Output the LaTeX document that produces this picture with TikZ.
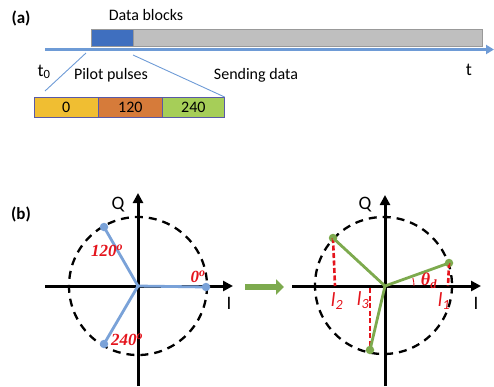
\documentclass[tikz,border=0pt]{standalone}
\usepackage{fontspec}
\setmainfont{Carlito}
\newfontfamily\serifbi{Liberation Serif}
\usetikzlibrary{arrows.meta}
\definecolor{tblue}{HTML}{6E9BD6}
\definecolor{dblue}{HTML}{3F6FBF}
\definecolor{gblock}{HTML}{BFBFBF}
\definecolor{pyel}{HTML}{F0BE32}
\definecolor{porg}{HTML}{D67B3A}
\definecolor{pgrn}{HTML}{A6CE58}
\definecolor{vgreen}{HTML}{7DAA4E}
\definecolor{vblue}{HTML}{7AA2D8}
\definecolor{lred}{HTML}{E4141C}
\begin{document}
\begin{tikzpicture}[x=1pt,y=-1pt,
  txt/.style={font=\fontsize{16}{18}\selectfont, inner sep=0pt},
  lbl/.style={font=\fontsize{17}{19}\selectfont\bfseries, inner sep=0pt},
  axl/.style={font=\fontsize{19}{21}\selectfont, inner sep=0pt},
  blk/.style={draw=gray!80, anchor=north west, inner sep=0pt},
  pbox/.style={draw=gray!70!blue, line width=0.6pt, minimum width=64, minimum height=20, anchor=north west, inner sep=0pt, font=\fontsize{16}{18}\selectfont},
  axis/.style={line width=3pt, -{Triangle[length=10pt,width=10pt]}},
  circ/.style={line width=2.3pt, dash pattern=on 8pt off 6pt},
  vecb/.style={line width=2.8pt, vblue},
  vecg/.style={line width=2.8pt, vgreen},
  dotb/.style={circle, fill=vblue, inner sep=0pt, minimum size=8.5pt},
  dotg/.style={circle, fill=vgreen, inner sep=0pt, minimum size=8.5pt},
  deg/.style={text=lred, font=\fontsize{17}{19}\selectfont\serifbi\bfseries\itshape, inner sep=0pt},
  ll/.style={text=lred, font=\fontsize{20}{22}\selectfont\itshape, inner sep=0pt},
  rdash/.style={lred, line width=2.6pt, dash pattern=on 5pt off 2.5pt},
  zoomline/.style={tblue, line width=0.9pt}
]
\useasboundingbox (0,0) rectangle (494,386);

% ---------- (a) ----------
\node[lbl] (la) at (21,18) {(a)};
\node[txt] (db) at (146,15) {Data blocks};
\node[blk, fill=dblue, minimum width=42, minimum height=17] (bb) at (91,29) {};
\node[blk, fill=gblock, minimum width=349, minimum height=17] (gb) at (133,29) {};
\coordinate (tl0) at (45,49.5);
\coordinate (tl1) at (494,49.5);
\draw[tblue, line width=3.2pt, -{Triangle[length=8pt,width=9pt]}] (tl0) -- (tl1);
\node[txt, font=\fontsize{18}{20}\selectfont] (t0) at (44,72) {t\textsubscript{0}};
\node[txt, font=\fontsize{18}{20}\selectfont] (t) at (469,70) {t};
\node[txt] (pp) at (111,75) {Pilot pulses};
\node[txt] (sd) at (256,75) {Sending data};
\node[pbox, fill=pyel] (p0) at (34,97) {0};
\node[pbox, fill=porg] (p1) at (98,97) {120};
\node[pbox, fill=pgrn, minimum width=62] (p2) at (162,97) {240};
\coordinate (z1) at (86,53);
\coordinate (z2) at (133,55);
\coordinate (z3) at (45,91);
\coordinate (z4) at (p2.north east);
\draw[zoomline] (z1) -- (z3);
\draw[zoomline] (z2) -- (z4);

% ---------- (b) ----------
\node[lbl] (lb) at (21,214) {(b)};

% left diagram
\coordinate (o1) at (138,286);
\coordinate (h1a) at (45,286);
\coordinate (h1b) at (233,286);
\coordinate (v1a) at (138,386);
\coordinate (v1b) at (138,193);
\draw[circ] (o1) circle (69);
\draw[axis] (h1a) -- (h1b);
\draw[axis] (v1a) -- (v1b);
\node[axl] (q1) at (118,205) {Q};
\node[axl] (i1) at (229,303) {I};
\node[dotb] (b0) at (206,287) {};
\node[dotb] (b120) at (104,227) {};
\node[dotb] (b240) at (104,344) {};
\draw[vecb] (o1) -- (b0.center);
\draw[vecb] (o1) -- (b120.center);
\draw[vecb] (o1) -- (b240.center);
\node[deg] (d120) at (107,251) {120\textsuperscript{o}};
\node[deg] (d0) at (198,277) {0\textsuperscript{o}};
\node[deg] (d240) at (127,340) {240\textsuperscript{o}};

% green arrow
\coordinate (ga) at (245,287);
\coordinate (gb2) at (284,287);
\draw[vgreen, line width=6pt, -{Triangle[length=8pt,width=15pt]}] (ga) -- (gb2);

% right diagram
\coordinate (o2) at (385,286);
\coordinate (h2a) at (292,286);
\coordinate (h2b) at (481,286);
\coordinate (v2a) at (385,386);
\coordinate (v2b) at (385,195);
\draw[circ] (383.5,285.5) circle (68.5);
\draw[axis] (h2a) -- (h2b);
\draw[axis] (v2a) -- (v2b);
\node[axl] (q2) at (365,205) {Q};
\node[axl] (i2) at (476,303) {I};
\node[dotg] (g1) at (449,263) {};
\node[dotg] (g2) at (333,238) {};
\node[dotg] (g3) at (370,350) {};
\coordinate (f1) at (448,286);
\coordinate (f2) at (335,286);
\coordinate (f3) at (370,288);
\draw[rdash] (g1.center) -- (f1);
\draw[rdash] (g2.center) -- (f2);
\draw[rdash] (f3) -- (g3.center);
\draw[vecg] (o2) -- (g1.center);
\draw[vecg] (o2) -- (g2.center);
\draw[vecg] (o2) -- (g3.center);
\draw[lred, line width=0.9pt] (o2) ++(29,0) arc[start angle=0, end angle=-16, radius=29];
\node[deg, font=\fontsize{18}{20}\selectfont\serifbi\bfseries\itshape] (th) at (429,281) {θ\textsubscript{d}};
\node[ll] (l2) at (337,301) {l\textsubscript{2}};
\node[ll] (l3) at (363,300) {l\textsubscript{3}};
\node[ll] (l1) at (444,301) {l\textsubscript{1}};
\end{tikzpicture}
\end{document}
